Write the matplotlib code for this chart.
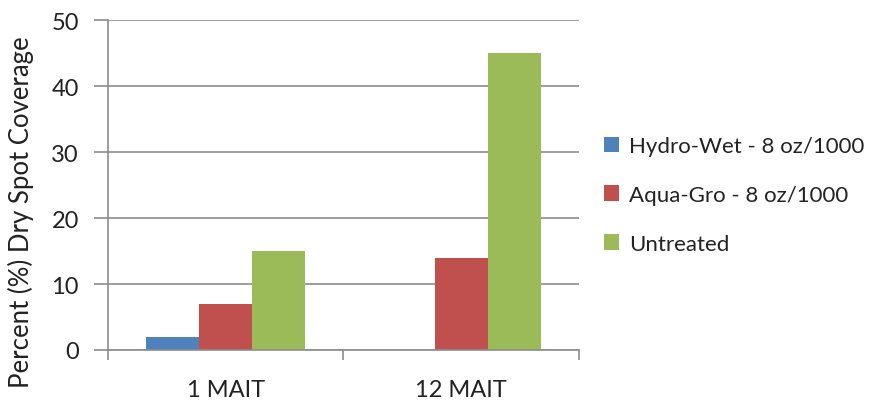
import numpy as np
import matplotlib.pyplot as plt

plt.rcParams['font.family'] = ['Lato', 'DejaVu Sans']

categories = ['1 MAIT', '12 MAIT']
series_names = ['Hydro-Wet - 8 oz/1000', 'Aqua-Gro - 8 oz/1000', 'Untreated']
hydro_wet = [2, 0]
aqua_gro = [7, 14]
untreated = [15, 45]
colors = ['#4F81BD', '#C0504D', '#9BBB59']
yticks = [0, 10, 20, 30, 40, 50]

fig = plt.figure(figsize=(8.83, 4.06), dpi=100)
ax = fig.add_axes([0.1223, 0.1355, 0.5334, 0.8125])

x = np.arange(len(categories))
w = 0.2255
for i, (vals, name, c) in enumerate(zip([hydro_wet, aqua_gro, untreated], series_names, colors)):
    ax.bar(x + (i - 1) * w, vals, w, color=c, label=name, linewidth=0, zorder=2)

ax.set_xlim(-0.5, len(categories) - 0.5)
ax.set_ylim(0, 50)
ax.set_yticks(yticks)
ax.yaxis.grid(True, color='#8c8c8c', linewidth=1.2, zorder=0)
ax.set_axisbelow(True)

ax.set_xticks(np.arange(-0.5, len(categories), 1.0))
ax.set_xticklabels([])
ax.set_xticks(x, minor=True)
ax.set_xticklabels(categories, minor=True)
ax.tick_params(axis='x', which='minor', length=0, pad=21, labelsize=17, labelcolor='#222222')
ax.tick_params(axis='x', which='major', length=7, color='#8c8c8c', width=1.2)
ax.tick_params(axis='y', length=10, color='#8c8c8c', width=1.2, labelsize=17,
               labelcolor='#222222', pad=11)

for s in ['top', 'right']:
    ax.spines[s].set_visible(False)
for s in ['left', 'bottom']:
    ax.spines[s].set_color('#8c8c8c')
    ax.spines[s].set_linewidth(1.2)

ax.set_ylabel('Percent (%) Dry Spot Coverage', fontsize=18.5, color='#222222')
ax.yaxis.set_label_coords(-0.157, 0.42)

ax.legend(loc='center left', bbox_to_anchor=(1.01, 0.47), frameon=False, fontsize=16,
          handlelength=0.7, handleheight=0.7, handletextpad=0.45, labelspacing=1.3,
          labelcolor='#222222')

fig.savefig('out.png', dpi=100)
